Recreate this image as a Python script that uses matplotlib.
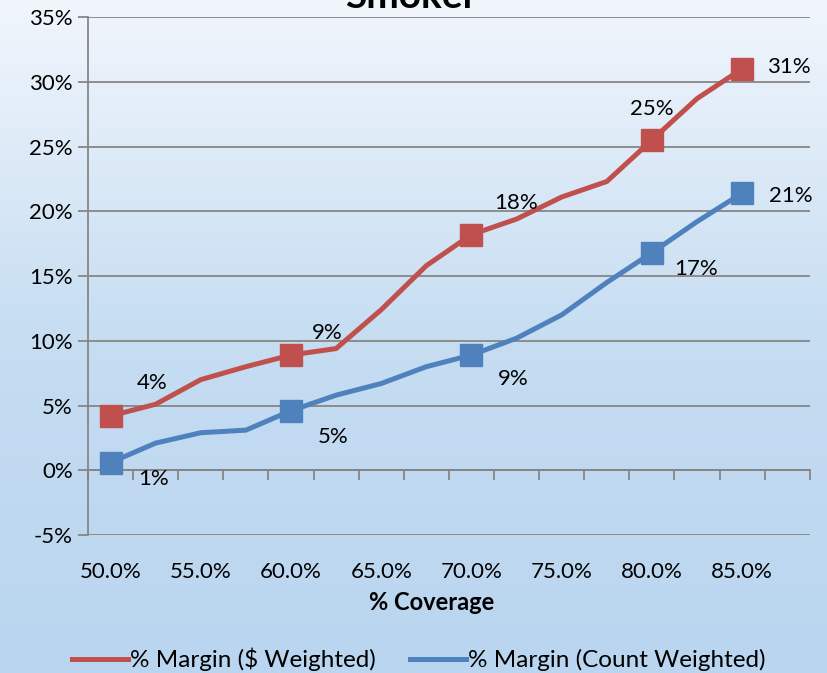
import matplotlib
matplotlib.use("Agg")
import matplotlib.pyplot as plt
import numpy as np
from matplotlib.colors import LinearSegmentedColormap

categories = ["50.0%", "52.5%", "55.0%", "57.5%", "60.0%", "62.5%", "65.0%", "67.5%",
              "70.0%", "72.5%", "75.0%", "77.5%", "80.0%", "82.5%", "85.0%", "87.5%"]
red_vals = [4.2, 5.1, 7.0, 8.0, 8.9, 9.4, 12.4, 15.8, 18.2, 19.4, 21.1, 22.3, 25.5, 28.7, 31.0]
blue_vals = [0.6, 2.1, 2.9, 3.1, 4.6, 5.8, 6.7, 8.0, 8.9, 10.2, 12.0, 14.5, 16.8, 19.2, 21.4]
marker_idx = [0, 4, 8, 12, 14]
red_labels = ["4%", "9%", "18%", "25%", "31%"]
blue_labels = ["1%", "5%", "9%", "17%", "21%"]
yticks = [-5, 0, 5, 10, 15, 20, 25, 30, 35]

plt.rcParams['font.family'] = ['Lato', 'DejaVu Sans']

fig = plt.figure(figsize=(8.28, 6.73), dpi=100)
# gradient background
bg = fig.add_axes([0, 0, 1, 1], zorder=-10)
cmap = LinearSegmentedColormap.from_list("g", ["#f1f6fc", "#c6ddf2", "#b9d5ef"])
grad = np.linspace(0, 1, 256).reshape(-1, 1)
bg.imshow(grad, aspect='auto', cmap=cmap, extent=[0, 1, 0, 1], origin='upper')
bg.axis('off')

ax = fig.add_axes([0.1063, 0.205, 0.8717, 0.7697])
ax.patch.set_alpha(0)

red = "#c0504d"
blue = "#4f81bd"
x = np.arange(len(red_vals))
ax.plot(x, red_vals, color=red, lw=3.6, solid_joinstyle='miter', zorder=3,
        label="% Margin ($ Weighted)")
ax.plot(x, blue_vals, color=blue, lw=3.6, solid_joinstyle='miter', zorder=3,
        label="% Margin (Count Weighted)")
ax.plot(x[marker_idx], np.array(red_vals)[marker_idx], ls='none', marker='s', ms=15.5,
        color=red, zorder=4)
ax.plot(x[marker_idx], np.array(blue_vals)[marker_idx], ls='none', marker='s', ms=15.5,
        color=blue, zorder=4)

fs = 16
red_off = [(30, 24), (26, 16), (32, 23), (0, 22), (18, 1)]
blue_off = [(31, -12), (30, -19), (30, -17), (32, -12), (19, -2)]
for i, (k, lab) in enumerate(zip(marker_idx, red_labels)):
    ax.annotate(lab, (k, red_vals[k]), xytext=red_off[i], textcoords='offset points',
                ha='left' if i == 4 else 'center', va='center', fontsize=fs, zorder=5)
for i, (k, lab) in enumerate(zip(marker_idx, blue_labels)):
    ax.annotate(lab, (k, blue_vals[k]), xytext=blue_off[i], textcoords='offset points',
                ha='left' if i == 4 else 'center', va='center', fontsize=fs, zorder=5)

ax.set_xlim(-0.5, len(categories) - 0.5)
ax.set_ylim(-5, 35)
ax.set_yticks(yticks)
ax.set_yticklabels([f"{v}%" for v in yticks])
ax.yaxis.grid(True, color="#868686", lw=1.3)
ax.set_axisbelow(True)

ax.set_xticks(np.arange(-0.5, len(categories), 1.0))
ax.set_xticklabels([])
ax.set_xticks(np.arange(0, len(categories), 2), minor=True)
ax.set_xticklabels(categories[::2], minor=True)
ax.tick_params(axis='x', which='major', length=7, width=1.3, color="#868686", direction='out')
ax.tick_params(axis='x', which='minor', length=0, pad=66, labelsize=fs)
ax.tick_params(axis='y', length=7, width=1.3, color="#868686", pad=4, labelsize=fs)

for s in ['top', 'right']:
    ax.spines[s].set_visible(False)
ax.spines['left'].set_color("#868686")
ax.spines['left'].set_linewidth(1.3)
ax.spines['bottom'].set_position(('data', 0))
ax.spines['bottom'].set_color("#868686")
ax.spines['bottom'].set_linewidth(1.3)

ax.set_xlabel("% Coverage", fontsize=17, fontweight='bold', va='center')
ax.xaxis.set_label_coords(0.476, -0.131)

fig.text(0.497, 0.988, "Smoker", ha='center', va='baseline', fontsize=28, fontweight='bold')

fig.legend(loc='center', bbox_to_anchor=(0.506, 0.02), ncol=2, frameon=False,
           fontsize=17.5, handlelength=2.3, handletextpad=0.1, columnspacing=1.4)

fig.savefig("out.png", dpi=100)
